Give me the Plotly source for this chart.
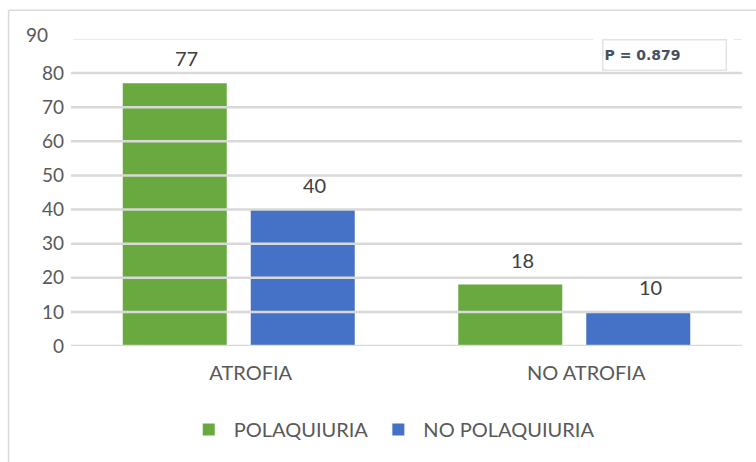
import plotly.graph_objects as go

# Data
categories = ["ATROFIA", "NO ATROFIA"]
series_names = ["POLAQUIURIA", "NO POLAQUIURIA"]
polaquiuria = [77, 18]
no_polaquiuria = [40, 10]
y_ticks = [0, 10, 20, 30, 40, 50, 60, 70, 80, 90]
p_label = "P = 0.879"

colors = ["#69a93f", "#4572c6"]
text_color = "#595959"
font_family = "Lato, Carlito, 'Open Sans', sans-serif"

fig = go.Figure()
for name, vals, col in zip(series_names, [polaquiuria, no_polaquiuria], colors):
    fig.add_trace(go.Bar(
        x=categories, y=vals, name=name,
        marker=dict(color=col, line=dict(width=0)),
    ))

# value labels above each bar (grouped: left bar / right bar)
for shift, vals in zip([-52, 76], [polaquiuria, no_polaquiuria]):
    for c, v in zip(categories, vals):
        fig.add_annotation(
            x=c, y=v, xref="x", yref="y", text=str(v), showarrow=False,
            xshift=shift, yshift=11, yanchor="bottom",
            font=dict(size=20, color="#404040", family=font_family),
        )

# horizontal gridlines drawn over the bars
for t in y_ticks:
    top = t == y_ticks[-1]
    fig.add_shape(
        type="line", xref="paper", yref="y", x0=0.003 if top else 0, x1=1,
        y0=t, y1=t, layer="above",
        line=dict(color="#e2e2e2" if top else "#d9d9d9", width=1.5 if top else 2.5),
    )

# white backing behind the P-value box
fig.add_shape(type="rect", xref="paper", yref="y", x0=0.778, x1=0.988, y0=82, y1=91.5,
              layer="above", fillcolor="white", line=dict(width=0))

fig.add_annotation(
    xref="paper", yref="y", x=0.791, y=90, xanchor="left", yanchor="top",
    text="<b>" + p_label + "</b>", showarrow=False, align="left", width=120, height=27,
    bgcolor="white", bordercolor="#e3e3e3", borderwidth=1.5, borderpad=1,
    font=dict(size=14, color="#46505f", family="DejaVu Sans"),
)

# topmost tick label sits slightly apart from the others
fig.add_annotation(
    xref="paper", yref="y", x=-0.031, y=y_ticks[-1], xanchor="right", yanchor="middle",
    yshift=5, text=str(y_ticks[-1]), showarrow=False,
    font=dict(size=19, color=text_color, family=font_family),
)

# outer chart frame (top and left edges)
frame = dict(color="#d9d9d9", width=1.5)
fig.add_shape(type="line", xref="paper", yref="paper", x0=-0.093, x1=1.03, y0=1.094, y1=1.094, line=frame)
fig.add_shape(type="line", xref="paper", yref="paper", x0=-0.093, x1=-0.093, y0=1.094, y1=-0.5, line=frame)

fig.update_layout(
    width=756, height=462,
    margin=dict(l=71, r=14, t=39, b=116),
    paper_bgcolor="white", plot_bgcolor="white",
    barmode="group", bargap=0.237, bargroupgap=0.1875,
    font=dict(family=font_family, size=20, color=text_color),
    showlegend=True,
    legend=dict(orientation="h", x=0.478, xanchor="center", y=-0.272, yanchor="middle",
                font=dict(size=20, color=text_color), itemwidth=40,
                traceorder="normal"),
    xaxis=dict(showgrid=False, showline=False, zeroline=False, ticks="",
               ticklabelstandoff=13, ticklabelshift=12,
               tickfont=dict(size=20, color=text_color)),
    yaxis=dict(range=[0, 90], tickvals=y_ticks[:-1], showgrid=False, zeroline=False,
               showline=False, ticks="", ticklabelstandoff=6,
               tickfont=dict(size=19, color=text_color)),
)

fig.write_html("out.html")
